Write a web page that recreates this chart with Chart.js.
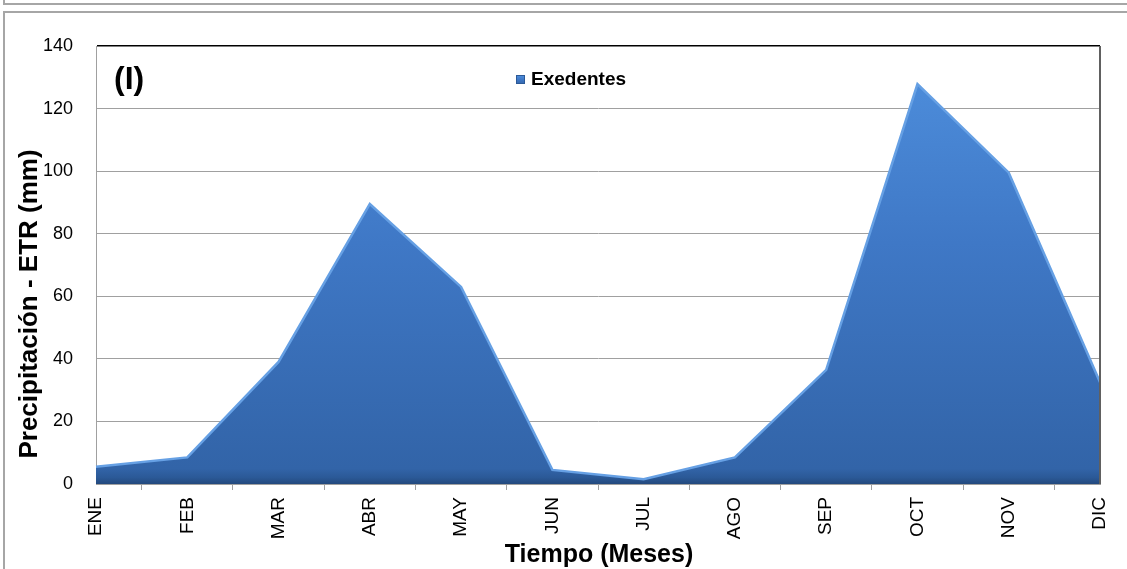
<!DOCTYPE html>
<html>
<head>
<meta charset="utf-8">
<script src="https://cdn.jsdelivr.net/npm/chart.js@4.4.1/dist/chart.umd.min.js"></script>
<style>
  body { margin: 0; background: #fff; overflow: hidden; }
  #wrap { position: relative; width: 1127px; height: 569px; }
  .box { position: absolute; border: 2px solid #a6a6a6; }
  canvas { position: absolute; left: 0; top: 0; }
</style>
</head>
<body>
<div id="wrap">
  <div class="box" style="left:3px; top:-20px; width:1140px; height:21px;"></div>
  <div class="box" style="left:3px; top:11px; width:1140px; height:580px;"></div>
  <canvas id="myChart" width="1127" height="569"></canvas>
</div>
<script>
// meses y excedentes (mm)
const months = ["ENE", "FEB", "MAR", "ABR", "MAY", "JUN", "JUL", "AGO", "SEP", "OCT", "NOV", "DIC"];
const exedentes = [5.5, 8.5, 39, 89.5, 63, 4.5, 1.5, 8.5, 36.5, 127.8, 99.5, 32.5];
const yTicks = [0, 20, 40, 60, 80, 100, 120, 140];

const seriesName = "Exedentes";
const yTitle = "Precipitación - ETR (mm)";
const xTitle = "Tiempo (Meses)";
const panelLabel = "(I)";

function blueFill(ctx, top, bottom) {
    let g = ctx.createLinearGradient(0, top, 0, bottom);
    g.addColorStop(0, "#4f90de");
    g.addColorStop(0.45, "#3f78c6");
    g.addColorStop(0.965, "#3264a8");
    g.addColorStop(0.985, "#2b5997");
    g.addColorStop(1, "#23497d");
    return g;
}

// dibuja titulos, leyenda y borde del area
const extras = {
    id: "extras",
    afterDraw(chart) {
        const ctx = chart.ctx;
        const a = chart.chartArea;
        ctx.save();

        // borde derecho del area de trazado
        ctx.strokeStyle = "#606060";
        ctx.lineWidth = 2;
        ctx.beginPath();
        ctx.moveTo(a.right, a.top);
        ctx.lineTo(a.right, a.bottom);
        ctx.stroke();

        ctx.fillStyle = "#000";
        ctx.textBaseline = "middle";

        // (I)
        ctx.font = "bold 32px 'Liberation Sans', Arial, sans-serif";
        ctx.textAlign = "left";
        ctx.fillText(panelLabel, 114, 80);

        // leyenda
        let sq = blueFill(ctx, 75, 85);
        ctx.fillStyle = sq;
        ctx.fillRect(516, 75, 9, 9);
        ctx.strokeStyle = "#2b5997";
        ctx.lineWidth = 1;
        ctx.strokeRect(516.5, 75.5, 8, 8);
        ctx.fillStyle = "#000";
        ctx.font = "bold 19px 'Liberation Sans', Arial, sans-serif";
        ctx.fillText(seriesName, 531, 80);

        // titulo eje x
        ctx.font = "bold 25px 'Liberation Sans', Arial, sans-serif";
        ctx.textAlign = "center";
        ctx.fillText(xTitle, 599, 555);

        // titulo eje y
        ctx.font = "bold 26px 'Liberation Sans', Arial, sans-serif";
        ctx.translate(30, 304);
        ctx.rotate(-Math.PI / 2);
        ctx.fillText(yTitle, 0, 0);

        ctx.restore();
    }
};

const ctx = document.getElementById("myChart");

const myChart = new Chart(ctx, {
    type: "line",
    data: {
        labels: months,
        datasets: [{
            label: seriesName,
            data: exedentes,
            fill: "origin",
            borderColor: "#66a0e4",
            borderWidth: 2.5,
            pointRadius: 0,
            tension: 0,
            backgroundColor: function(context) {
                const a = context.chart.chartArea;
                if (!a) return "#3d76c3";
                return blueFill(context.chart.ctx, a.top, a.bottom);
            }
        }]
    },
    options: {
        responsive: false,
        animation: false,
        layout: { padding: { left: 0, right: 27, top: 46, bottom: 0 } },
        plugins: {
            legend: { display: false },
            tooltip: { enabled: false }
        },
        scales: {
            x: {
                offset: false,
                afterFit: function(scale) {
                    scale.height = 85;
                    scale.paddingRight = 0;
                    scale.paddingLeft = 0;
                },
                grid: {
                    offset: true,
                    drawOnChartArea: false,
                    tickLength: 6,
                    color: "#a0a0a0"
                },
                border: { color: "#a0a0a0", width: 1 },
                ticks: {
                    autoSkip: false,
                    minRotation: 90,
                    maxRotation: 90,
                    padding: 7,
                    color: "#000",
                    font: { family: "'Liberation Sans', Arial, sans-serif", size: 19 }
                }
            },
            y: {
                min: 0,
                max: 140,
                afterFit: function(scale) { scale.width = 96; },
                afterBuildTicks: function(scale) {
                    scale.ticks = yTicks.map(v => ({ value: v }));
                },
                grid: {
                    drawTicks: false,
                    color: function(c) { return c.tick && c.tick.value === 140 ? "#000" : "#a0a0a0"; },
                    lineWidth: function(c) { return c.tick && c.tick.value === 140 ? 1.5 : 1; }
                },
                border: { color: "#a0a0a0", width: 1 },
                ticks: {
                    padding: 23,
                    color: "#000",
                    font: { family: "'Liberation Sans', Arial, sans-serif", size: 18 }
                }
            }
        }
    },
    plugins: [extras]
});
</script>
</body>
</html>
